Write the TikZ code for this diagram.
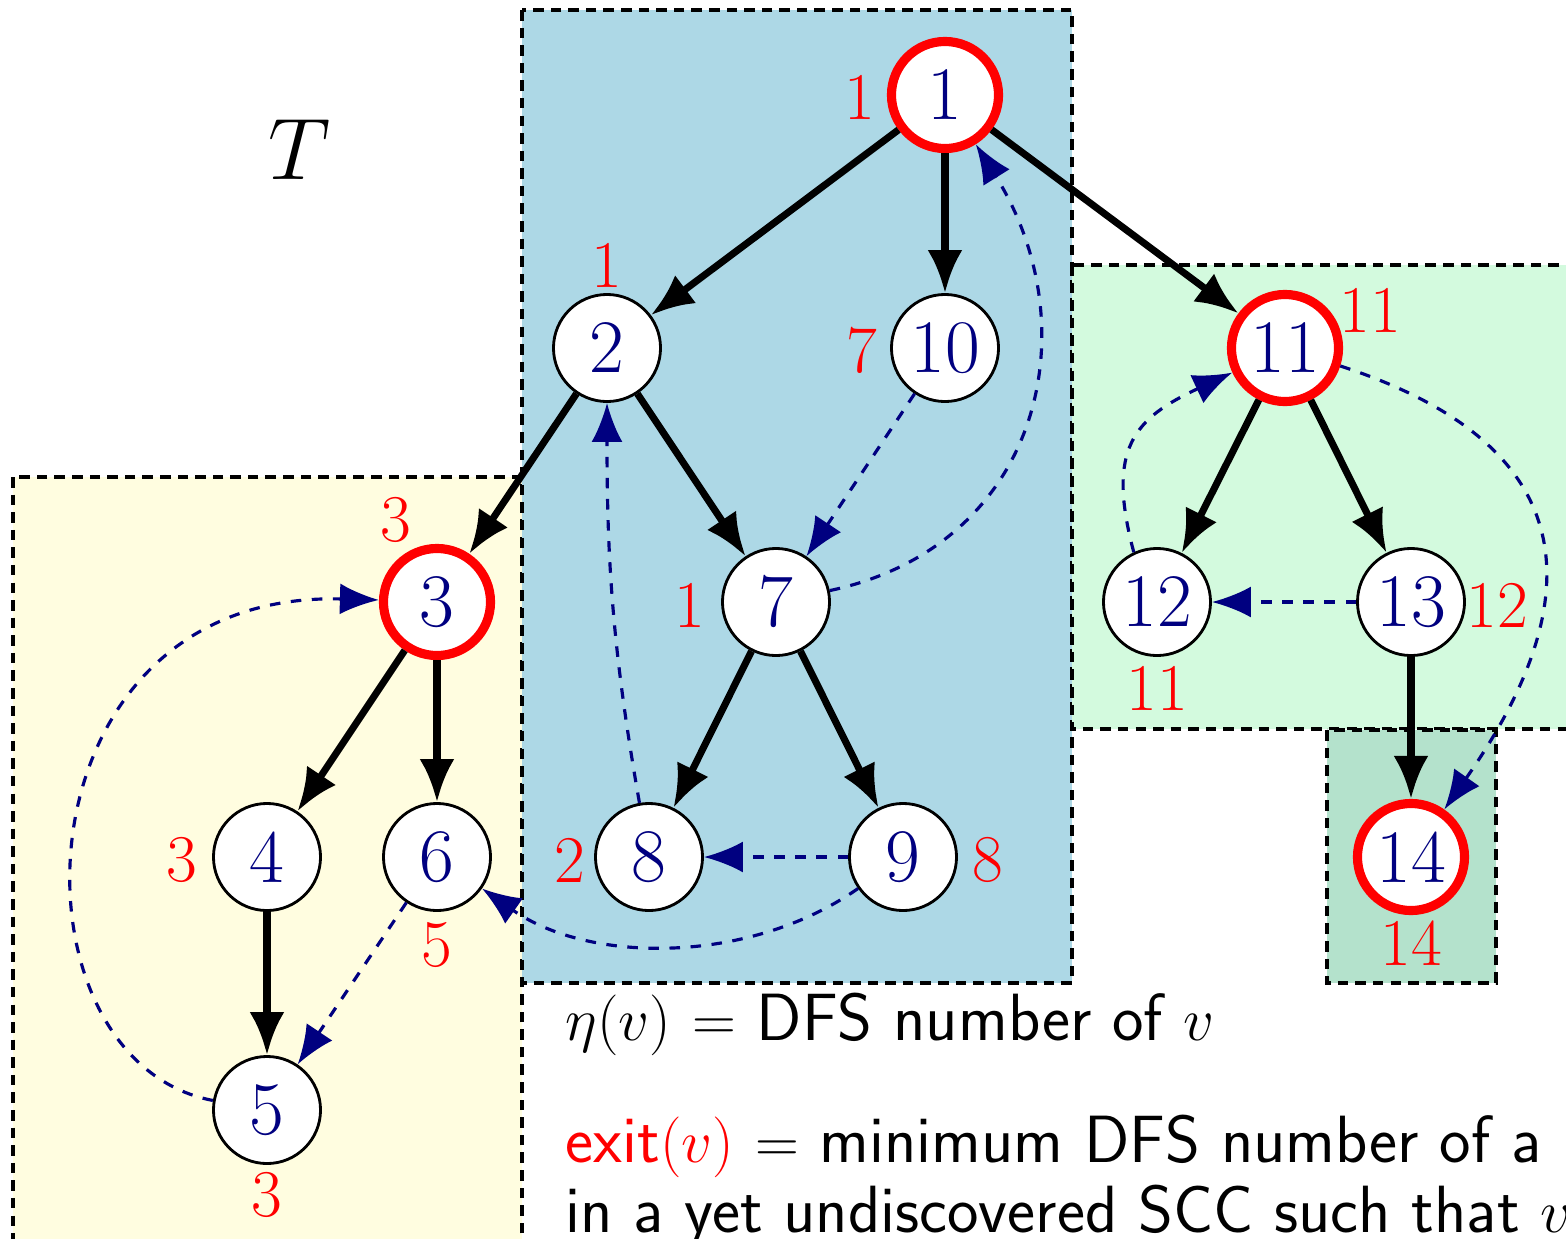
\documentclass[tikz,border=0pt]{standalone}
\usetikzlibrary{arrows.meta}
\definecolor{navyc}{RGB}{0,0,128}
\definecolor{boxblue}{RGB}{173,216,230}
\definecolor{boxgreen}{RGB}{211,250,222}
\definecolor{boxyellow}{RGB}{255,253,224}
\definecolor{boxdark}{RGB}{180,226,204}
\begin{document}
\begin{tikzpicture}[x=0.01cm,y=-0.01cm,
  vtx/.style={circle,draw=black,line width=0.8pt,fill=white,minimum size=1.07cm,inner sep=0pt,text=navyc,font=\fontsize{21.5}{25}\selectfont},
  root/.style={vtx,draw=red,line width=2.6pt},
  lab/.style={text=red,font=\fontsize{19}{22}\selectfont,inner sep=0pt},
  tree/.style={line width=2pt,-{Latex[length=4.3mm,width=3.5mm]}},
  back/.style={navyc,line width=0.9pt,dashed,-{Latex[length=3.9mm,width=3.1mm]}},
  region/.style={draw=black,line width=0.9pt,dash pattern=on 3pt off 2pt},
  txt/.style={inner sep=0pt,anchor=base west,font=\sffamily\fontsize{19}{22}\selectfont}]
\useasboundingbox (0,0) rectangle (1566,1239);
% regions
\path[region,fill=boxyellow] (13,477) rectangle (522,1260);
\path[region,fill=boxblue] (522,10) rectangle (1072,983);
\path[region,fill=boxgreen] (1072,265) rectangle (1590,729);
\path[region,fill=boxdark] (1327,730) rectangle (1496,983);
% title
\node[font=\fontsize{25}{28}\selectfont,inner sep=0pt] (T) at (300,150) {$T$};
% vertices
\node[root] (n1) at (945,95) {1};
\node[vtx] (n2) at (607,348) {2};
\node[vtx] (n10) at (945,348) {10};
\node[root] (n11) at (1285,348) {11};
\node[root] (n3) at (437,602) {3};
\node[vtx] (n7) at (776,602) {7};
\node[vtx] (n12) at (1157,602) {12};
\node[vtx] (n13) at (1411,602) {13};
\node[vtx] (n4) at (267,857) {4};
\node[vtx] (n6) at (437,857) {6};
\node[vtx] (n8) at (649,857) {8};
\node[vtx] (n9) at (903,857) {9};
\node[root] (n14) at (1411,857) {14};
\node[vtx] (n5) at (267,1110) {5};
% labels
\node[lab] (l1) at (860,97) {1};
\node[lab] (l2) at (607,265) {1};
\node[lab] (l10) at (862,350) {7};
\node[lab] (l11) at (1370,310) {11};
\node[lab] (l3) at (396,520) {3};
\node[lab] (l7) at (690,605) {1};
\node[lab] (l13) at (1497,605) {12};
\node[lab] (l12) at (1157,688) {11};
\node[lab] (l4) at (182,860) {3};
\node[lab] (l6) at (437,945) {5};
\node[lab] (l8) at (570,860) {2};
\node[lab] (l9) at (988,860) {8};
\node[lab] (l14) at (1411,943) {14};
\node[lab] (l5) at (267,1195) {3};
% tree edges
\draw[tree] (n1) -- (n2);
\draw[tree] (n1) -- (n10);
\draw[tree] (n1) -- (n11);
\draw[tree] (n2) -- (n3);
\draw[tree] (n2) -- (n7);
\draw[tree] (n3) -- (n4);
\draw[tree] (n3) -- (n6);
\draw[tree] (n4) -- (n5);
\draw[tree] (n7) -- (n8);
\draw[tree] (n7) -- (n9);
\draw[tree] (n11) -- (n12);
\draw[tree] (n11) -- (n13);
\draw[tree] (n13) -- (n14);
% back / cross edges
\draw[back] (n7) to[out=12,in=-58,looseness=1.18] (n1);
\draw[back] (n10) -- (n7);
\draw[back] (n8) to[out=100,in=-90] (n2);
\draw[back] (n9) -- (n8);
\draw[back] (n9) to[out=-145,in=-35,looseness=0.9] (n6);
\draw[back] (n6) -- (n5);
\draw[back] (n5.170) .. controls (0,1060) and (10,590) .. (n3.178);
\draw[back] (n13) -- (n12);
\draw[back] (n12.115) to[out=105,in=-155,looseness=1.35] (n11);
\draw[back] (n11) to[out=-18,in=55,looseness=1.45] (n14);
% text
\node[txt] (d1) at (565,1040) {$\eta(v)$ $=$ DFS number of $v$};
\node[txt] (d2) at (565,1162) {\textcolor{red}{exit$(v)$} $=$ minimum DFS number of a};
\node[txt] (d3) at (565,1232) {in a yet undiscovered SCC such that $v$};
\end{tikzpicture}
\end{document}
